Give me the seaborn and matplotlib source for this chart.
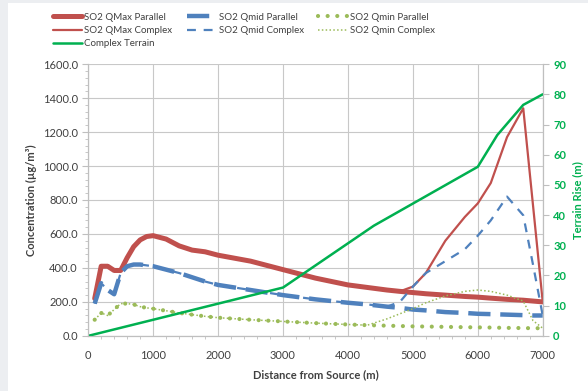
import matplotlib
matplotlib.use("Agg")
import matplotlib.pyplot as plt
from matplotlib.ticker import MultipleLocator, FormatStrFormatter
from matplotlib.patches import Rectangle
import seaborn as sns
import pandas as pd

# distance from source (m)
dist = [100, 200, 300, 400, 500, 600, 700, 800, 900, 1000, 1200, 1400, 1600, 1800, 2000,
        2500, 3000, 3500, 4000, 4300, 4600, 4800, 5000, 5200, 5500, 5800, 6000, 6200,
        6450, 6700, 6850, 7000]

qmax_par = [220, 410, 410, 385, 385, 460, 525, 565, 585, 590, 570, 530, 505, 495, 475,
            440, 390, 340, 300, 285, 270, 262, 255, 248, 240, 232, 228, 222,
            215, 210, 205, 200]
qmax_cpx = [220, 410, 410, 385, 385, 460, 525, 565, 585, 590, 570, 530, 505, 495, 475,
            440, 390, 340, 300, 285, 270, 262, 290, 370, 560, 700, 780, 900,
            1170, 1340, 770, 200]
qmid_par = [190, 310, 270, 245, 370, 410, 420, 420, 415, 410, 390, 370, 345, 320, 300,
            270, 240, 215, 195, 185, 172, 165, 155, 150, 140, 135, 130, 128,
            125, 122, 120, 120]
qmid_cpx = [190, 310, 270, 245, 370, 410, 420, 420, 415, 410, 390, 370, 345, 320, 300,
            270, 240, 215, 195, 185, 172, 200, 290, 370, 440, 510, 590, 680,
            820, 710, 420, 120]
qmin_par = [95, 135, 120, 155, 190, 190, 185, 172, 165, 160, 148, 135, 125, 115, 107,
            95, 85, 75, 67, 63, 60, 58, 56, 55, 53, 51, 50, 49,
            47, 46, 45, 45]
qmin_cpx = [95, 135, 120, 155, 190, 190, 185, 172, 165, 160, 148, 135, 125, 115, 107,
            95, 85, 75, 67, 63, 100, 130, 160, 195, 235, 262, 270, 262,
            240, 205, 90, 45]

terrain_x = [0, 3000, 4400, 6000, 6300, 6700, 7000]
terrain_y = [0, 16, 36.5, 56, 66.5, 76.5, 80]

df = pd.DataFrame({"dist": dist, "qmax_par": qmax_par, "qmax_cpx": qmax_cpx,
                   "qmid_par": qmid_par, "qmid_cpx": qmid_cpx,
                   "qmin_par": qmin_par, "qmin_cpx": qmin_cpx})
tf = pd.DataFrame({"dist": terrain_x, "rise": terrain_y})

red = "#c0504d"
blue = "#4f81bd"
olive = "#9bbb59"
green = "#00b050"
txt = "#404040"

sns.set_style("white")
plt.rcParams["font.family"] = ["Lato", "DejaVu Sans"]

fig = plt.figure(figsize=(5.88, 3.91), dpi=100)
fig.patch.set_facecolor("#eceef1")
fig.patches.append(Rectangle((0.014, 0), 0.986, 0.992, transform=fig.transFigure,
                             facecolor="white", edgecolor="none", zorder=-5))
ax = fig.add_axes([0.150, 0.141, 0.773, 0.695])
ax.set_facecolor("white")

sns.lineplot(data=df, x="dist", y="qmax_par", ax=ax, color=red, lw=3.6,
             label="SO2 QMax Parallel", solid_capstyle="round")
sns.lineplot(data=df, x="dist", y="qmax_cpx", ax=ax, color=red, lw=1.6,
             label="SO2 QMax Complex")
sns.lineplot(data=df, x="dist", y="qmid_par", ax=ax, color=blue, lw=3.2,
             label="SO2 Qmid Parallel")
ax.lines[-1].set_dashes([5, 2.2])
sns.lineplot(data=df, x="dist", y="qmid_cpx", ax=ax, color=blue, lw=1.6,
             label="SO2 Qmid Complex")
ax.lines[-1].set_dashes([4, 3.5])
sns.lineplot(data=df, x="dist", y="qmin_par", ax=ax, color=olive, lw=3.0,
             label="SO2 Qmin Parallel")
ax.lines[-1].set_dashes([0.01, 2.3])
ax.lines[-1].set_dash_capstyle("round")
sns.lineplot(data=df, x="dist", y="qmin_cpx", ax=ax, color=olive, lw=1.1,
             label="SO2 Qmin Complex")
ax.lines[-1].set_dashes([1, 1.5])

ax2 = ax.twinx()
sns.lineplot(data=tf, x="dist", y="rise", ax=ax2, color=green, lw=1.8,
             label="Complex Terrain")

ax.set_xlim(0, 7000)
ax.set_ylim(0, 1600)
ax2.set_ylim(0, 90)
ax.xaxis.set_major_locator(MultipleLocator(1000))
ax.xaxis.set_minor_locator(MultipleLocator(200))
ax.yaxis.set_major_locator(MultipleLocator(200))
ax.yaxis.set_minor_locator(MultipleLocator(40))
ax.yaxis.set_major_formatter(FormatStrFormatter("%.1f"))
ax2.yaxis.set_major_locator(MultipleLocator(10))

ax.grid(True, which="major", color="#c8c8c8", lw=0.8)
ax.set_axisbelow(True)
ax.spines["top"].set_visible(False)
ax2.spines["top"].set_visible(False)
for a in (ax, ax2):
    for s in ["left", "bottom", "right"]:
        a.spines[s].set_color("#bfbfbf")
        a.spines[s].set_linewidth(0.8)

ax.tick_params(axis="both", which="major", labelsize=8, colors="#bfbfbf",
               labelcolor=txt, length=4, direction="out", width=0.8)
ax.tick_params(axis="x", which="major", pad=6)
ax.tick_params(axis="both", which="minor", length=2.5, colors="#bfbfbf",
               direction="out", width=0.6, bottom=True, left=True)
ax2.tick_params(axis="y", labelsize=8, colors="#bfbfbf", labelcolor=green,
                length=4, direction="out", width=0.8)
for lab in ax2.get_yticklabels():
    lab.set_fontweight("bold")

ax.set_xlabel("Distance from Source (m)", fontsize=8, fontweight="bold", color=txt,
              labelpad=6)
ax.set_ylabel("Concentration (µg/m³)", fontsize=8, fontweight="bold", color=txt)
ax2.set_ylabel("Terrain Rise (m)", fontsize=8, fontweight="bold", color=green)

h1, l1 = ax.get_legend_handles_labels()
h2, l2 = ax2.get_legend_handles_labels()
ax.get_legend().remove()
ax2.get_legend().remove()
order_h = [h1[0], h1[1], h2[0], h1[2], h1[3], h1[4], h1[5]]
order_l = [l1[0], l1[1], l2[0], l1[2], l1[3], l1[4], l1[5]]
leg = fig.legend(order_h, order_l, loc="upper left", bbox_to_anchor=(0.075, 0.99),
                 ncol=3, frameon=False, fontsize=7, handlelength=3.0,
                 columnspacing=1.5, labelspacing=0.45, handletextpad=0.25,
                 labelcolor=txt)
for line in leg.get_lines():
    if line.get_label() == "SO2 Qmin Parallel":
        line.set_dash_capstyle("round")
        line.set_dashes([0.01, 2.3])

fig.savefig("out.png", dpi=100)
